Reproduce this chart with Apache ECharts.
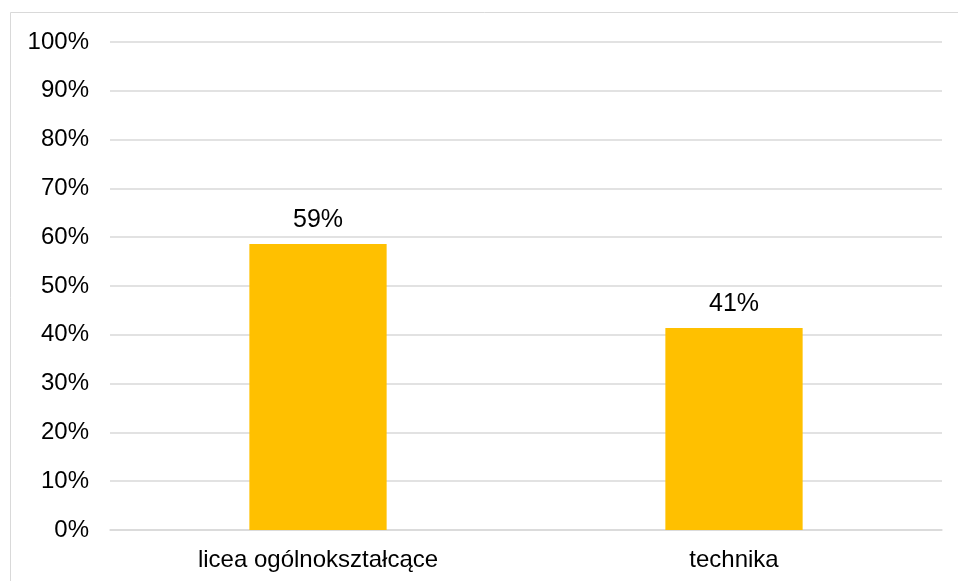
<!DOCTYPE html>
<html>
<head>
<meta charset="utf-8">
<script src="https://cdn.jsdelivr.net/npm/echarts@6/dist/echarts.min.js"></script>
<style>
html,body{margin:0;padding:0;background:#fff;}
#c{width:958px;height:581px;}
</style>
</head>
<body>
<div id="c"></div>
<script>
var categories = ['licea ogólnokształcące', 'technika'];
var shares = [58.6, 41.4];
var shareLabels = ['59%', '41%'];
var yTicks = [0, 10, 20, 30, 40, 50, 60, 70, 80, 90, 100];

var chart = echarts.init(document.getElementById('c'), null, {renderer: 'canvas'});
chart.setOption({
  animation: false,
  backgroundColor: '#ffffff',
  textStyle: {fontFamily: 'Liberation Sans, Arial, sans-serif'},
  graphic: [{
    type: 'rect',
    shape: {x: 10.5, y: 12.5, width: 1200, height: 1200},
    style: {fill: 'none', stroke: '#d9d9d9', lineWidth: 1},
    silent: true
  }],
  grid: {left: 110, right: 16, top: 42, bottom: 51},
  xAxis: {
    type: 'category',
    data: categories,
    axisLine: {show: true, lineStyle: {color: '#d9d9d9', width: 1.5}},
    axisTick: {show: false},
    axisLabel: {color: '#000', fontSize: 24, margin: 18, fontFamily: 'Liberation Sans, Arial, sans-serif'}
  },
  yAxis: {
    type: 'value',
    min: yTicks[0],
    max: yTicks[yTicks.length - 1],
    interval: 10,
    axisLine: {show: false},
    axisTick: {show: false},
    splitLine: {show: true, lineStyle: {color: '#d9d9d9', width: 1.5}},
    axisLabel: {color: '#000', fontSize: 24, margin: 21, formatter: '{value}%', fontFamily: 'Liberation Sans, Arial, sans-serif'}
  },
  series: [{
    type: 'bar',
    data: shares,
    barWidth: '33%',
    itemStyle: {color: '#FFC000'},
    label: {
      show: true,
      position: 'top',
      distance: 11,
      color: '#000',
      fontSize: 25,
      fontFamily: 'Liberation Sans, Arial, sans-serif',
      formatter: function (p) { return shareLabels[p.dataIndex]; }
    }
  }]
});
</script>
</body>
</html>
